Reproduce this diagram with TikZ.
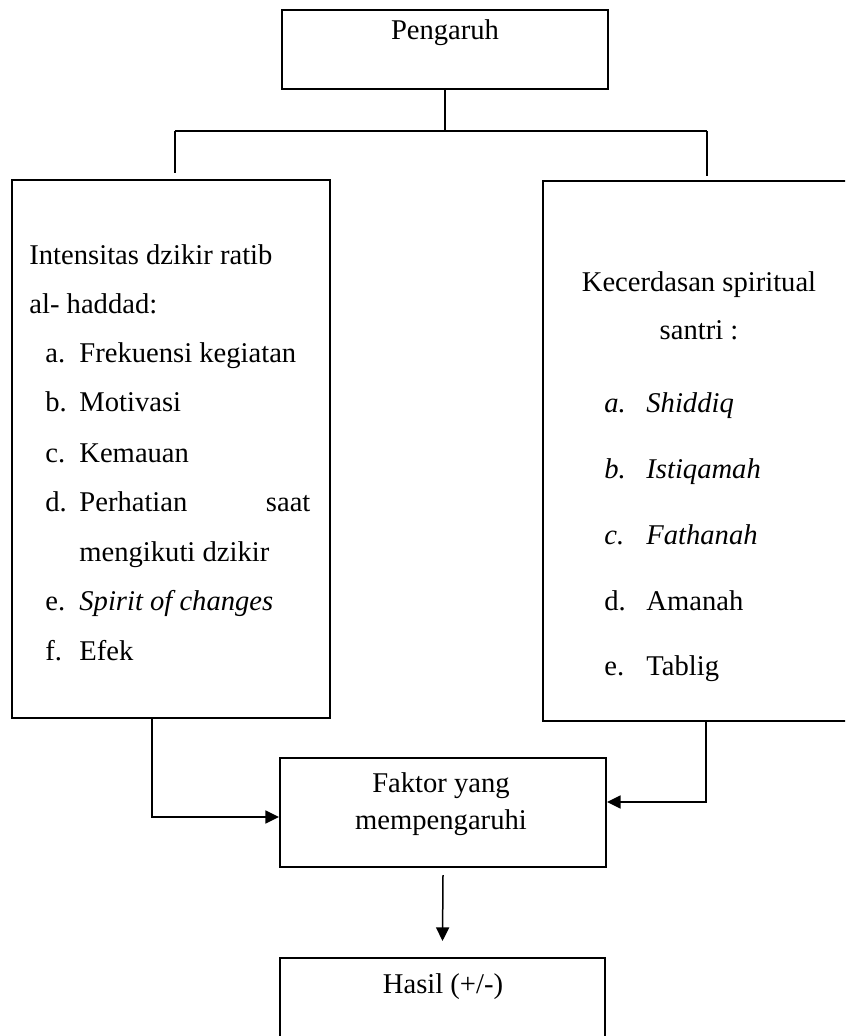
\documentclass[tikz,border=0pt]{standalone}
\usepackage{fontspec}
\setmainfont{Liberation Serif}
\usetikzlibrary{arrows.meta, positioning, calc}

\begin{document}
\begin{tikzpicture}[x=0.5pt, y=-0.5pt,
    box/.style={draw, line width=1pt, inner sep=0pt},
    txt/.style={font=\fontsize{14.3}{17}\selectfont, inner sep=0pt},
    line/.style={line width=0.75pt},
    link/.style={line width=0.75pt, -{Triangle[length=6.8pt, width=6.5pt]}}]
    \clip (0,0) rectangle (845,1036);
    % boxes
    \node[box, minimum width=163pt, minimum height=39.5pt] (pengaruh) at (445,49.5) {};
    \node[box, minimum width=159pt, minimum height=269pt] (lbox) at (171,449) {};
    \node[box, minimum width=156pt, minimum height=270pt] (rbox) at (699,451) {};
    \node[box, minimum width=163pt, minimum height=54.5pt] (faktor) at (443,812.5) {};
    \node[box, minimum width=162.5pt, minimum height=51pt] (hasil) at (442.5,1009) {};
    % box texts
    \node[txt, anchor=base] (pengaruhtxt) at (445,40) {Pengaruh};
    \node[txt, anchor=base] (faktortxt1) at (441,792) {Faktor yang};
    \node[txt, anchor=base] (faktortxt2) at (441,829) {mempengaruhi};
    \node[txt, anchor=base] (hasiltxt) at (443,993) {Hasil (+/-)};
    % left list
    \node[txt, anchor=base west] (ltitle1) at (29,265) {Intensitas dzikir ratib};
    \node[txt, anchor=base west] (ltitle2) at (29,314) {al- haddad:};
    \foreach \lbl/\item/\yy in {a./Frekuensi kegiatan/363, b./Motivasi/412, c./Kemauan/462,
        e./\textit{Spirit of changes}/610, f./Efek/660} {
      \node[txt, anchor=base west] (llbl\yy) at (45,\yy) {\lbl};
      \node[txt, anchor=base west] (litem\yy) at (79,\yy) {\item};
    }
    \node[txt, anchor=base west] (llbld) at (45,511) {d.};
    \node[txt, anchor=base west] (litemd) at (79,511) {\hbox to 115.5pt{Perhatian\hfill saat}};
    \node[txt, anchor=base west] (litemd2) at (79,561) {mengikuti dzikir};
    % right list
    \node[txt, anchor=base] (rtitle1) at (699,292) {Kecerdasan spiritual};
    \node[txt, anchor=base] (rtitle2) at (699,340) {santri :};
    \foreach \lbl/\item/\yy in {\textit{a.}/\textit{Shiddiq}/413, \textit{b.}/\textit{Istiqamah}/479,
        \textit{c.}/\textit{Fathanah}/544, d./Amanah/610, e./Tablig/675} {
      \node[txt, anchor=base west] (rlbl\yy) at (604,\yy) {\lbl};
      \node[txt, anchor=base west] (ritem\yy) at (646,\yy) {\item};
    }
    % connectors
    \coordinate (barL) at (175,131);
    \coordinate (barR) at (707,131);
    \coordinate (lstem) at (152,0);
    \coordinate (rstem) at (706,0);
    \draw[line] (pengaruh.south) -- (pengaruh.south |- barL);
    \draw[line] (barL) -- (barR);
    \draw[line, shorten >=3pt] (barL) -- (barL |- lbox.north);
    \draw[line, shorten >=2pt] (barR) -- (barR |- rbox.north);
    \draw[link] (lbox.south -| lstem) |- ([yshift=-2.25pt]faktor.west);
    \draw[link] (rbox.south -| rstem) |- ([yshift=5.25pt]faktor.east);
    \draw[link] ([yshift=-3.5pt]faktor.south) -- ([yshift=8pt]hasil.north);
  \end{tikzpicture}
\end{document}
